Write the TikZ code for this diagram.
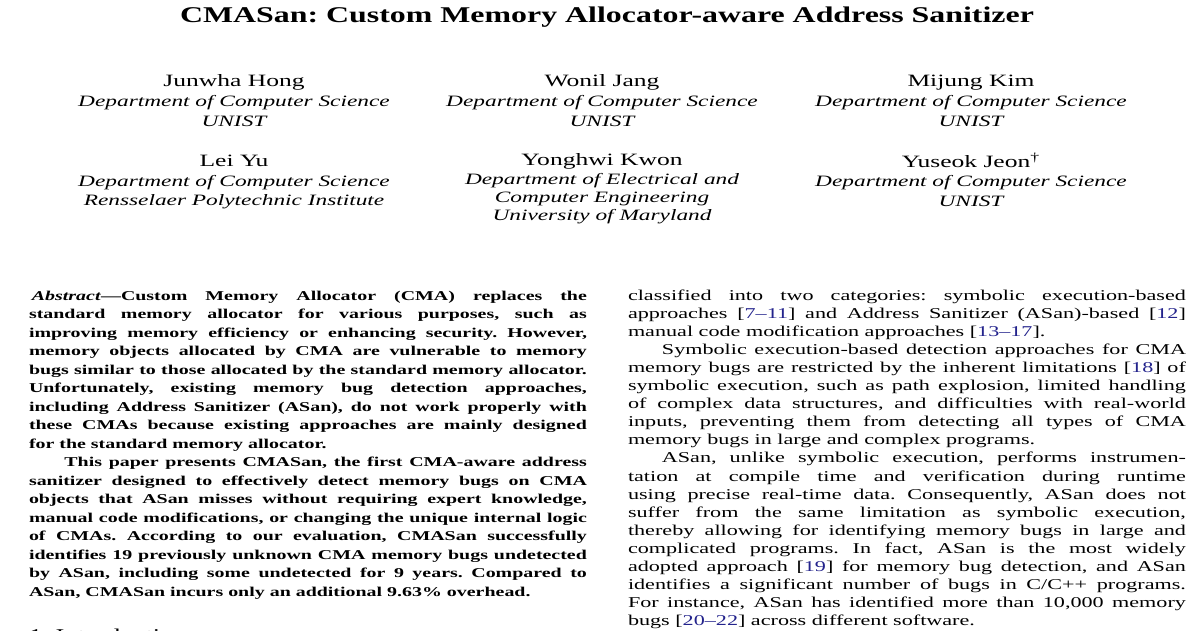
\documentclass[tikz,border=0pt]{standalone}
\usepackage{fontspec}
\setmainfont{Liberation Serif}
\usepackage{graphicx}
\frenchspacing
\definecolor{citeblue}{RGB}{35,35,140}
\newcommand\cit[1]{[\textcolor{citeblue}{#1}]}
\newcommand\SX{1.476}
\newcommand\CW{378pt}
\newcommand\Jus[1]{\scalebox{\SX}[1]{\hbox to \CW{#1}}}
\newcommand\Nat[1]{\scalebox{\SX}[1]{#1}}
\newcommand\Ttl[1]{\scalebox{1.417}[1]{#1}}
\tikzset{
  ln/.style={anchor=base west, inner sep=0pt, outer sep=0pt},
  abs/.style={ln, font=\fontsize{13.5}{16}\selectfont\bfseries},
  body/.style={ln, font=\fontsize{15}{18}\selectfont},
  nm/.style={anchor=base, inner sep=0pt, font=\fontsize{17.3}{20}\selectfont},
  af/.style={anchor=base, inner sep=0pt, font=\fontsize{15.8}{19}\selectfont\itshape},
  ttl/.style={anchor=base, inner sep=0pt, font=\fontsize{22.5}{27}\selectfont\bfseries},
  hd/.style={ln, font=\fontsize{18}{22}\selectfont},
}
\begin{document}
\begin{tikzpicture}[x=1pt,y=-1pt]
\useasboundingbox (0,0) rectangle (1200,630);
\fill[white] (0,0) rectangle (1200,630);
\clip (0,0) rectangle (1200,630);

% title
\node[ttl] (title) at (607,22.5) {\Ttl{CMASan: Custom Memory Allocator-aware Address Sanitizer}};

% authors row 1
\node[nm] (a1) at (234,86) {\Nat{Junwha Hong}};
\node[af] (a1d) at (234,106) {\Nat{Department of Computer Science}};
\node[af] (a1u) at (234,126.5) {\Nat{UNIST}};
\node[nm] (a2) at (602,86) {\Nat{Wonil Jang}};
\node[af] (a2d) at (602,106) {\Nat{Department of Computer Science}};
\node[af] (a2u) at (602,126.5) {\Nat{UNIST}};
\node[nm] (a3) at (971,86) {\Nat{Mijung Kim}};
\node[af] (a3d) at (971,106) {\Nat{Department of Computer Science}};
\node[af] (a3u) at (971,126.5) {\Nat{UNIST}};
% authors row 2
\node[nm] (a4) at (234,166) {\Nat{Lei Yu}};
\node[af] (a4d) at (234,186) {\Nat{Department of Computer Science}};
\node[af] (a4u) at (234,205) {\Nat{Rensselaer Polytechnic Institute}};
\node[nm] (a5) at (602,165) {\Nat{Yonghwi Kwon}};
\node[af] (a5d) at (602,184) {\Nat{Department of Electrical and}};
\node[af] (a5e) at (602,202) {\Nat{Computer Engineering}};
\node[af] (a5u) at (602,220) {\Nat{University of Maryland}};
\node[nm] (a6) at (971,167.5) {\Nat{Yuseok Jeon\textsuperscript{\textdagger}}};
\node[af] (a6d) at (971,186) {\Nat{Department of Computer Science}};
\node[af] (a6u) at (971,206) {\Nat{UNIST}};

% left column: abstract
\node[abs] (l1) at (29,300) {\Jus{\hspace*{2pt}\textit{Abstract}—Custom Memory Allocator (CMA) replaces the}};
\node[abs] (l2) at (29,318.5) {\Jus{standard memory allocator for various purposes, such as}};
\node[abs] (l3) at (29,337) {\Jus{improving memory efficiency or enhancing security. However,}};
\node[abs] (l4) at (29,355.5) {\Jus{memory objects allocated by CMA are vulnerable to memory}};
\node[abs] (l5) at (29,374) {\Jus{bugs similar to those allocated by the standard memory allocator.}};
\node[abs] (l6) at (29,392.5) {\Jus{Unfortunately, existing memory bug detection approaches,}};
\node[abs] (l7) at (29,411) {\Jus{including Address Sanitizer (ASan), do not work properly with}};
\node[abs] (l8) at (29,429.5) {\Jus{these CMAs because existing approaches are mainly designed}};
\node[abs] (l9) at (29,448) {\Nat{for the standard memory allocator.}};
\node[abs] (l10) at (29,466.5) {\Jus{\hspace*{24pt}This paper presents CMASan, the first CMA-aware address}};
\node[abs] (l11) at (29,485) {\Jus{sanitizer designed to effectively detect memory bugs on CMA}};
\node[abs] (l12) at (29,503.5) {\Jus{objects that ASan misses without requiring expert knowledge,}};
\node[abs] (l13) at (29,522) {\Jus{manual code modifications, or changing the unique internal logic}};
\node[abs] (l14) at (29,540.5) {\Jus{of CMAs. According to our evaluation, CMASan successfully}};
\node[abs] (l15) at (29,559) {\Jus{identifies 19 previously unknown CMA memory bugs undetected}};
\node[abs] (l16) at (29,577.5) {\Jus{by ASan, including some undetected for 9 years. Compared to}};
\node[abs] (l17) at (29,596) {\Nat{ASan, CMASan incurs only an additional 9.63\% overhead.}};
\node[hd] (sec) at (29,641) {\Nat{1. Introduction}};

% right column
\node[body] (r1) at (628,300) {\Jus{classified into two categories: symbolic execution-based}};
\node[body] (r2) at (628,318.1) {\Jus{approaches \cit{7–11} and Address Sanitizer (ASan)-based \cit{12}}};
\node[body] (r3) at (628,336.2) {\Nat{manual code modification approaches \cit{13–17}.}};
\node[body] (r4) at (628,354.3) {\Jus{\hspace*{23pt}Symbolic execution-based detection approaches for CMA}};
\node[body] (r5) at (628,372.4) {\Jus{memory bugs are restricted by the inherent limitations \cit{18} of}};
\node[body] (r6) at (628,390.5) {\Jus{symbolic execution, such as path explosion, limited handling}};
\node[body] (r7) at (628,408.6) {\Jus{of complex data structures, and difficulties with real-world}};
\node[body] (r8) at (628,426.7) {\Jus{inputs, preventing them from detecting all types of CMA}};
\node[body] (r9) at (628,444.8) {\Nat{memory bugs in large and complex programs.}};
\node[body] (r10) at (628,462.9) {\Jus{\hspace*{23pt}ASan, unlike symbolic execution, performs instrumen-}};
\node[body] (r11) at (628,481) {\Jus{tation at compile time and verification during runtime}};
\node[body] (r12) at (628,499.1) {\Jus{using precise real-time data. Consequently, ASan does not}};
\node[body] (r13) at (628,517.2) {\Jus{suffer from the same limitation as symbolic execution,}};
\node[body] (r14) at (628,535.3) {\Jus{thereby allowing for identifying memory bugs in large and}};
\node[body] (r15) at (628,553.4) {\Jus{complicated programs. In fact, ASan is the most widely}};
\node[body] (r16) at (628,571.5) {\Jus{adopted approach \cit{19} for memory bug detection, and ASan}};
\node[body] (r17) at (628,589.6) {\Jus{identifies a significant number of bugs in C/C++ programs.}};
\node[body] (r18) at (628,607.7) {\Jus{For instance, ASan has identified more than 10,000 memory}};
\node[body] (r19) at (628,625.2) {\Nat{bugs \cit{20–22} across different software.}};
\end{tikzpicture}
\end{document}
